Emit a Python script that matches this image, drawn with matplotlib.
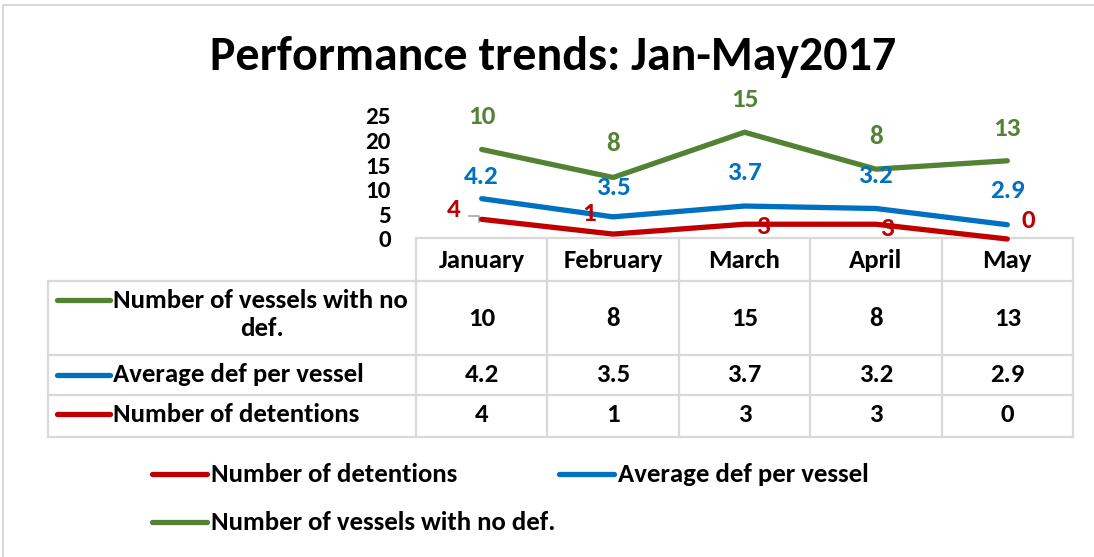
import matplotlib
matplotlib.use("Agg")
import matplotlib.pyplot as plt
import numpy as np

plt.rcParams['font.family'] = ['Carlito', 'DejaVu Sans']
plt.rcParams['font.weight'] = 'bold'

# ---- data ----
months = ["January", "February", "March", "April", "May"]
detentions = [4, 1, 3, 3, 0]
avg_def = [4.2, 3.5, 3.7, 3.2, 2.9]
no_def = [10, 8, 15, 8, 13]
yticks = [0, 5, 10, 15, 20, 25]
title = "Performance trends: Jan-May2017"

RED = "#C00000"
BLUE = "#0070C0"
GREEN = "#548235"
GRID = "#D9D9D9"

W, H = 1094, 557
fig = plt.figure(figsize=(W / 100, H / 100), dpi=100)

# overlay axes in pixel coordinates
ov = fig.add_axes([0, 0, 1, 1])
ov.set_xlim(0, W)
ov.set_ylim(H, 0)
ov.axis("off")

# chart border (left & top visible)
ov.plot([3, 3, W + 5], [H + 5, 5, 5], color=GRID, lw=1.5, solid_capstyle="butt")

ov.text(553, 57, title, fontsize=34.5, fontweight="bold", ha="center", va="center")

# plot area
x0, x1 = 416, 1073
y0, y1 = 239, 116
ax = fig.add_axes([x0 / W, (H - y0) / H, (x1 - x0) / W, (y0 - y1) / H])
ax.set_xlim(-0.5, len(months) - 0.5)
ax.set_ylim(0, 25)
ax.patch.set_alpha(0)
for s in ax.spines.values():
    s.set_visible(False)
ax.set_xticks([])
ax.set_yticks(yticks)
ax.set_yticklabels([str(v) for v in yticks], fontsize=18, fontweight="bold")
ax.tick_params(axis="y", length=0, pad=18)

x = np.arange(len(months))
s1 = np.array(detentions, dtype=float)
s2 = s1 + np.array(avg_def)
s3 = s2 + np.array(no_def)

series = [
    (s1, detentions, RED, "Number of detentions"),
    (s2, avg_def, BLUE, "Average def per vessel"),
    (s3, no_def, GREEN, "Number of vessels with no def."),
]
for ys, _, c, _ in series:
    ax.plot(x, ys, color=c, lw=3.8, solid_capstyle="round", solid_joinstyle="round", clip_on=False)

# data label offsets (pixels; dx, dy upward)
red_off = [(-28, 10), (-24, 21), (18, -2), (11, -4), (21, 18)]
blue_off = [(0, 22), (0, 29), (0, 34), (0, 33), (0, 34)]
green_off = [(0, 33), (0, 34), (0, 33), (0, 33), (0, 32)]

def fmt(v):
    return f"{v:g}"

for (ys, vals, c, _), offs in zip(series, [red_off, blue_off, green_off]):
    for xi, yi, v, (dx, dy) in zip(x, ys, vals, offs):
        ax.annotate(fmt(v), (xi, yi), xytext=(dx * 0.72, dy * 0.72), textcoords="offset points",
                    ha="center", va="center", color=c, fontsize=19.5, fontweight="bold",
                    annotation_clip=False)

# leader line for January detention label
ov.plot([469, 479, 479], [216, 216, 222], color="#A6A6A6", lw=1.2)

# ---- data table ----
rows_y = [238, 281, 355, 395, 437]
col_w = (x1 - x0) / len(months)
cols_x = [x0 + i * col_w for i in range(len(months) + 1)]
tl = 48
lw_g = 1.6
ov.plot([x0, x1], [rows_y[0], rows_y[0]], color=GRID, lw=lw_g)
for yy in rows_y[1:]:
    ov.plot([tl, x1], [yy, yy], color=GRID, lw=lw_g)
ov.plot([tl, tl], [rows_y[1], rows_y[-1]], color=GRID, lw=lw_g)
for xx in cols_x:
    ov.plot([xx, xx], [rows_y[0], rows_y[-1]], color=GRID, lw=lw_g)

fs_t = 19.3
for i, m in enumerate(months):
    cx = (cols_x[i] + cols_x[i + 1]) / 2
    ov.text(cx, 260, m, ha="center", va="center", fontsize=fs_t, fontweight="bold")
    ov.text(cx, 318, fmt(no_def[i]), ha="center", va="center", fontsize=fs_t, fontweight="bold")
    ov.text(cx, 375, fmt(avg_def[i]), ha="center", va="center", fontsize=fs_t, fontweight="bold")
    ov.text(cx, 414, fmt(detentions[i]), ha="center", va="center", fontsize=fs_t, fontweight="bold")

# row headers with keys
ov.plot([57, 110], [300, 300], color=GREEN, lw=3.8, solid_capstyle="round")
ov.text(113, 300, "Number of vessels with no", ha="left", va="center", fontsize=fs_t, fontweight="bold")
ov.text(262, 328, "def.", ha="center", va="center", fontsize=fs_t, fontweight="bold")
ov.plot([57, 110], [375, 375], color=BLUE, lw=3.8, solid_capstyle="round")
ov.text(113, 375, "Average def per vessel", ha="left", va="center", fontsize=fs_t, fontweight="bold")
ov.plot([57, 110], [414, 414], color=RED, lw=3.8, solid_capstyle="round")
ov.text(113, 414, "Number of detentions", ha="left", va="center", fontsize=fs_t, fontweight="bold")

# ---- legend ----
leg = [(152, 474, RED, series[0][3]), (559, 474, BLUE, series[1][3]), (152, 522, GREEN, series[2][3])]
for lx, ly, c, lab in leg:
    ov.plot([lx, lx + 55], [ly, ly], color=c, lw=3.8, solid_capstyle="round")
    ov.text(lx + 59, ly, lab, ha="left", va="center", fontsize=fs_t, fontweight="bold")

fig.savefig("out.png", dpi=100)
